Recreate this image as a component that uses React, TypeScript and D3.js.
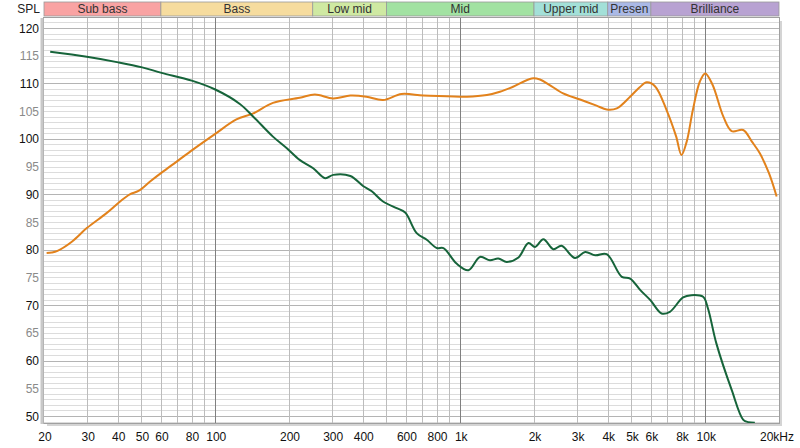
import React, { useRef, useEffect } from 'react';
import * as d3 from 'd3';

const W = 800;
const H = 448;

// frequency (Hz) / level (dB SPL) pairs
const orangeFreq = [20.5, 21.5, 22.7, 25.9, 29.9, 36, 40.9, 44.8, 48.6, 54.2, 60.4, 69.6, 81.3, 100, 122, 143, 172, 221, 255, 303, 356, 414, 484, 576, 706, 882, 1064, 1284, 1452, 1642, 1958, 2116, 2300, 2630, 3085, 3600, 3960, 4356, 4936, 5400, 5768, 6234, 6952, 7600, 8000, 8400, 8900, 9500, 10000, 10700, 11856, 12820, 14280, 15500, 16700, 18200, 19560];
const orangeSpl = [79.4, 79.5, 79.8, 81.4, 83.9, 86.6, 88.7, 90.0, 90.6, 92.3, 93.9, 95.9, 98.1, 100.9, 103.5, 104.6, 106.5, 107.4, 108.0, 107.3, 107.8, 107.6, 107.0, 108.1, 107.8, 107.7, 107.6, 107.9, 108.5, 109.4, 110.9, 110.7, 109.8, 108.2, 107.1, 106.0, 105.3, 105.5, 107.6, 109.3, 110.2, 109.5, 105.2, 100.5, 97.1, 99.5, 105.2, 110.3, 111.8, 109.8, 104.0, 101.4, 101.6, 99.5, 97.4, 93.8, 89.6];

const greenFreq = [21.2, 29.9, 40.2, 50.3, 60.4, 80.2, 100, 126, 143, 172, 196, 221, 251, 281, 303, 356, 401, 434, 484, 550, 596, 664, 730, 802, 854, 966, 1080, 1204, 1322, 1430, 1548, 1728, 1898, 2020, 2184, 2400, 2590, 2940, 3234, 3556, 3960, 4566, 4936, 5432, 5970, 6632, 7172, 8120, 8780, 9800, 10260, 11100, 12820, 14300, 15000, 15940];
const greenSpl = [115.7, 114.8, 113.8, 112.9, 111.9, 110.5, 108.9, 106.3, 104.0, 100.4, 98.3, 96.2, 94.7, 92.9, 93.5, 93.3, 91.5, 90.6, 88.7, 87.5, 86.7, 83.0, 81.8, 80.3, 80.3, 77.5, 76.3, 78.7, 78.1, 78.4, 77.8, 78.6, 81.2, 80.5, 81.9, 80.1, 80.7, 78.5, 79.6, 79.0, 79.2, 75.1, 74.8, 72.7, 70.9, 68.5, 68.8, 71.4, 71.8, 71.5, 69.4, 63.1, 54.7, 49.3, 48.9, 48.8];

const xTicks = [20, 30, 40, 50, 60, 80, 100, 200, 300, 400, 600, 800, 1000, 2000, 3000, 4000, 5000, 6000, 8000, 10000, 20000];
const xTickLabels = ['20', '30', '40', '50', '60', '80', '100', '200', '300', '400', '600', '800', '1k', '2k', '3k', '4k', '5k', '6k', '8k', '10k', '20kHz'];
const yTicks = [50, 55, 60, 65, 70, 75, 80, 85, 90, 95, 100, 105, 110, 115, 120];

const bandNames = ['Sub bass', 'Bass', 'Low mid', 'Mid', 'Upper mid', 'Presen', 'Brilliance'];
const bandEdges = [20, 60, 250, 500, 2000, 4000, 6000, 20000];
const bandColors = ['#f9a3a3', '#f6dc9e', '#cfe9a2', '#a2e2a2', '#a3e0d8', '#aab9e6', '#b8a2d2'];

const App: React.FC = () => {
  const svgRef = useRef<SVGSVGElement | null>(null);

  useEffect(() => {
    const svg = d3.select(svgRef.current);
    svg.selectAll('*').remove();

    const left = 44, right = 779, top = 18, bottom = 423;
    const x = d3.scaleLog().domain([20, 20000]).range([left, right]);
    const y = d3.scaleLinear().domain([50, 120]).range([416, 28]);

    // drop shadow of the plot frame
    svg.append('rect').attr('x', left + 3).attr('y', top + 3).attr('width', right - left).attr('height', bottom - top)
      .attr('fill', '#d4d4d4');
    svg.append('rect').attr('x', left).attr('y', top).attr('width', right - left).attr('height', bottom - top)
      .attr('fill', '#fff');

    const clip = svg.append('clipPath').attr('id', 'plot');
    clip.append('rect').attr('x', left).attr('y', top).attr('width', right - left).attr('height', bottom - top);

    // horizontal grid, 1 dB steps
    const g = svg.append('g').attr('clip-path', 'url(#plot)');
    d3.range(48, 123).forEach(v => {
      g.append('line')
        .attr('x1', left).attr('x2', right)
        .attr('y1', Math.round(y(v)) + 0.5).attr('y2', Math.round(y(v)) + 0.5)
        .attr('stroke', v % 10 === 0 ? '#b4b4b4' : '#dcdcdc')
        .attr('stroke-width', 1);
    });

    // vertical grid
    const vLines: number[] = [];
    [10, 100, 1000, 10000].forEach(d => [1, 2, 3, 4, 5, 6, 7, 8, 9].forEach(m => {
      const f = d * m;
      if (f > 20 && f < 20000) vLines.push(f);
    }));
    vLines.forEach(f => {
      const major = f === 100 || f === 1000 || f === 10000;
      g.append('line')
        .attr('x1', Math.round(x(f)) + 0.5).attr('x2', Math.round(x(f)) + 0.5)
        .attr('y1', top).attr('y2', bottom)
        .attr('stroke', major ? '#808080' : '#bcbcbc')
        .attr('stroke-width', 1);
    });

    // curves
    const line = d3.line<[number, number]>()
      .x(d => x(d[0]))
      .y(d => y(d[1]))
      .curve(d3.curveCatmullRom.alpha(0.5));

    g.append('path')
      .datum(orangeFreq.map((f, i) => [f, orangeSpl[i]] as [number, number]))
      .attr('d', line)
      .attr('fill', 'none')
      .attr('stroke', '#e2821c')
      .attr('stroke-width', 2);

    g.append('path')
      .datum(greenFreq.map((f, i) => [f, greenSpl[i]] as [number, number]))
      .attr('d', line)
      .attr('fill', 'none')
      .attr('stroke', '#16643a')
      .attr('stroke-width', 2);

    // frame
    svg.append('rect').attr('x', left - 0.5).attr('y', top - 0.5).attr('width', right - left + 1).attr('height', bottom - top + 1)
      .attr('fill', 'none').attr('stroke', '#a0a0a0');
    svg.append('line').attr('x1', left - 2).attr('x2', left - 2).attr('y1', top).attr('y2', bottom + 1)
      .attr('stroke', '#c8c8c8').attr('stroke-width', 3);

    // frequency band strip
    const band = svg.append('g');
    bandNames.forEach((name, i) => {
      const x0 = x(bandEdges[i]);
      const x1 = x(bandEdges[i + 1]);
      band.append('rect')
        .attr('x', x0).attr('y', 2).attr('width', x1 - x0).attr('height', 14)
        .attr('fill', bandColors[i])
        .attr('stroke', '#9a9a9a').attr('stroke-width', 0.8);
      band.append('text')
        .attr('x', (x0 + x1) / 2).attr('y', 13)
        .attr('text-anchor', 'middle')
        .attr('font-size', 12)
        .attr('fill', '#333')
        .text(name);
    });

    // y labels
    svg.append('text').attr('x', 40).attr('y', 13).attr('text-anchor', 'end')
      .attr('font-size', 12).attr('fill', '#222').text('SPL');
    yTicks.forEach(v => {
      svg.append('text')
        .attr('x', 39).attr('y', y(v) + 4.5)
        .attr('text-anchor', 'end')
        .attr('font-size', 12)
        .attr('fill', v % 10 === 0 ? '#111' : '#8a8a8a')
        .text(v);
    });

    // x labels
    xTicks.forEach((f, i) => {
      svg.append('text')
        .attr('x', i === xTicks.length - 1 ? x(f) - 2 : x(f) + 1).attr('y', 441)
        .attr('text-anchor', 'middle')
        .attr('font-size', 12)
        .attr('fill', '#111')
        .text(xTickLabels[i]);
    });
  }, []);

  return (
    <svg
      ref={svgRef}
      width={W}
      height={H}
      style={{ position: 'absolute', left: 0, top: 0, background: '#fff', fontFamily: '"Liberation Sans", Arial, sans-serif' }}
    />
  );
};

export default App;
